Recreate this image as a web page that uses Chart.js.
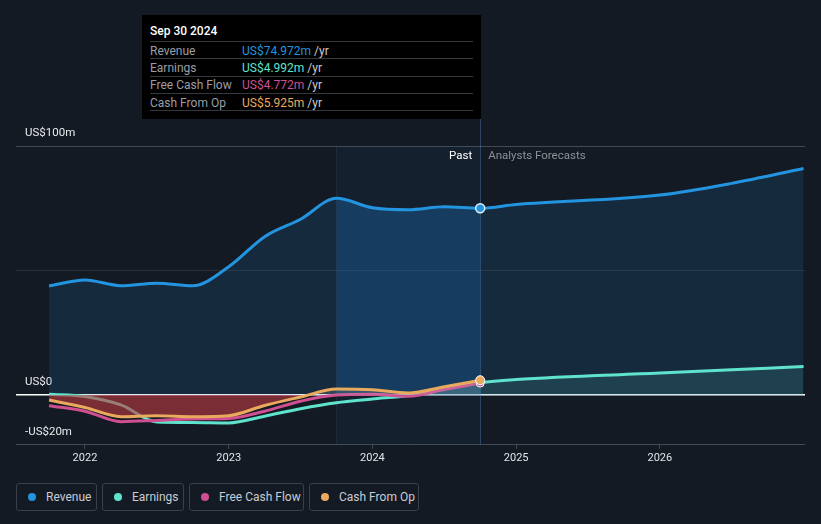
<!DOCTYPE html>
<html>
<head>
<meta charset="utf-8">
<script src="https://cdn.jsdelivr.net/npm/chart.js@4"></script>
<style>
  html, body { margin: 0; padding: 0; background: #141a24; }
  body { width: 821px; height: 524px; position: relative; overflow: hidden; font-family: Roboto, sans-serif; }
  #chart { position: absolute; left: 0; top: 0; }
  #tip { position: absolute; left: 142px; top: 15px; width: 339px; height: 104px; background: #000; font-size: 12px; }
  #tip .title { position: absolute; left: 8px; top: 9px; color: #fff; font-weight: 500; font-size: 12px; }
  #tip .row { position: absolute; left: 8px; width: 323px; height: 17px; border-top: 1px solid #34373d; }
  #tip .row .lab { position: absolute; left: 0; top: 1.5px; color: #9a9ea6; }
  #tip .row .val { position: absolute; left: 92px; top: 1.5px; }
  #tip .row .val span { color: #c9ccd2; }
  #tip .end { position: absolute; left: 8px; top: 95px; width: 323px; border-top: 1px solid #34373d; }
  #legend { position: absolute; left: 16px; top: 483px; display: flex; gap: 5px; }
  #legend .item { box-sizing: border-box; height: 28px; border: 1px solid #3a404b; border-radius: 3px;
    display: flex; align-items: center; padding-left: 11px; color: #c8ccd3; font-size: 12px; }
  #legend .dot { width: 8px; height: 8px; border-radius: 50%; margin-right: 10px; }
</style>
</head>
<body>
<canvas id="chart" width="821" height="470"></canvas>

<div id="tip">
  <div class="title">Sep 30 2024</div>
  <div class="row" style="top:26px"><div class="lab">Revenue</div><div class="val" style="color:#2394df">US$74.972m <span>/yr</span></div></div>
  <div class="row" style="top:43px"><div class="lab">Earnings</div><div class="val" style="color:#5fe3cc">US$4.992m <span>/yr</span></div></div>
  <div class="row" style="top:60.5px"><div class="lab">Free Cash Flow</div><div class="val" style="color:#cf4f90">US$4.772m <span>/yr</span></div></div>
  <div class="row" style="top:78px"><div class="lab">Cash From Op</div><div class="val" style="color:#eaaa5e">US$5.925m <span>/yr</span></div></div>
  <div class="end"></div>
</div>

<div id="legend">
  <div class="item" style="width:81px"><div class="dot" style="background:#2394df"></div>Revenue</div>
  <div class="item" style="width:82px"><div class="dot" style="background:#5fe3cc"></div>Earnings</div>
  <div class="item" style="width:115px"><div class="dot" style="background:#cf4f90"></div>Free Cash Flow</div>
  <div class="item" style="width:110px"><div class="dot" style="background:#eaaa5e"></div>Cash From Op</div>
</div>

<script>
// dates as decimal years (quarter ends), then forecast points
const dates = [2021.75, 2022.0, 2022.25, 2022.5, 2022.75, 2023.0, 2023.25, 2023.5, 2023.75,
               2024.0, 2024.25, 2024.5, 2024.75, 2025.0, 2026.0, 2026.5, 2027.0];
const revenue  = [43.8, 46.2, 43.9, 44.9, 43.9, 51.5, 63.6, 70.6, 79.0, 75.2, 74.4, 75.6, 74.97,
                  76.5, 80.3, 85.0, 91.0];
const earnings = [0.3, -0.6, -4.0, -10.8, -11.0, -11.2, -8.5, -5.5, -3.1, -1.6, -0.2, 2.5, 4.99,
                  6.2, 8.8, 10.1, 11.4];
const freeCashFlow = [-4.3, -6.5, -10.7, -10.2, -9.6, -9.4, -6.5, -2.5, 0.0, 0.3, -0.5, 2.2, 4.77];
const cashFromOp   = [-2.0, -5.0, -8.7, -8.3, -8.7, -8.3, -4.2, -0.8, 2.4, 2.1, 0.8, 3.3, 5.93];
const yearTicks = [2022, 2023, 2024, 2025, 2026];
const valueTicks = [-20, 0, 50, 100];
const bandStart = 2023.75, bandEnd = 2024.75;
const lastPast = 12;

const pts = arr => arr.map((v, i) => ({ x: dates[i], y: v }));
const revenueBand = pts(revenue).filter(p => p.x >= bandStart && p.x <= bandEnd);

Chart.defaults.font.family = 'Roboto, sans-serif';

const bandPlugin = {
    id: 'band',
    beforeDatasetsDraw(chart) {
        const { ctx, chartArea, scales } = chart;
        const x0 = scales.x.getPixelForValue(bandStart);
        const x1 = scales.x.getPixelForValue(bandEnd);
        ctx.save();
        ctx.fillStyle = 'rgba(30,120,190,0.07)';
        ctx.fillRect(x0, chartArea.top, x1 - x0, chartArea.bottom - chartArea.top);
        ctx.fillStyle = 'rgba(120,170,220,0.10)';
        ctx.fillRect(Math.round(x0), chartArea.top, 1, chartArea.bottom - chartArea.top);
        ctx.fillStyle = 'rgba(90,150,210,0.35)';
        ctx.fillRect(Math.round(x1), 15, 1, chartArea.bottom - 15);
        ctx.restore();
    },
    afterDraw(chart) {
        const { ctx, chartArea, scales } = chart;
        const x1 = scales.x.getPixelForValue(bandEnd);
        ctx.save();
        ctx.font = '11.5px Roboto, sans-serif';
        ctx.textBaseline = 'middle';
        ctx.textAlign = 'right';
        ctx.fillStyle = '#ffffff';
        ctx.fillText('Past', x1 - 8, chartArea.top + 10);
        ctx.textAlign = 'left';
        ctx.fillStyle = '#8c9098';
        ctx.fillText('Analysts Forecasts', x1 + 8, chartArea.top + 10);
        ctx.restore();
    }
};

const dotAtLast = r => ctx => ctx.dataIndex === lastPast ? r : 0;

new Chart(document.getElementById('chart'), {
    type: 'line',
    data: {
        datasets: [
            {
                label: 'Cash From Op',
                data: pts(cashFromOp),
                borderColor: '#eaaa5e',
                borderWidth: 3,
                cubicInterpolationMode: 'monotone',
                fill: { target: 'origin', above: 'rgba(190,195,205,0.18)', below: 'rgba(190,58,63,0.6)' },
                pointRadius: dotAtLast(4.5),
                pointBackgroundColor: '#eaaa5e',
                pointBorderColor: '#ffffff',
                pointBorderWidth: 1,
                order: 0
            },
            {
                label: 'Free Cash Flow',
                data: pts(freeCashFlow),
                borderColor: '#cf4f90',
                borderWidth: 3,
                cubicInterpolationMode: 'monotone',
                fill: false,
                pointRadius: dotAtLast(4),
                pointBackgroundColor: '#cf4f90',
                pointBorderColor: '#ffffff',
                pointBorderWidth: 1,
                order: 1
            },
            {
                label: 'Earnings',
                data: pts(earnings),
                borderColor: '#5fe3cc',
                borderWidth: 3,
                cubicInterpolationMode: 'monotone',
                fill: { target: 'origin', above: 'rgba(95,227,204,0.12)', below: 'rgba(0,0,0,0)' },
                pointRadius: 0,
                order: 2
            },
            {
                label: 'Revenue band',
                data: revenueBand,
                borderWidth: 0,
                borderColor: 'rgba(0,0,0,0)',
                cubicInterpolationMode: 'monotone',
                fill: { target: 'origin', above: 'rgba(20,110,180,0.22)' },
                pointRadius: 0,
                order: 4
            },
            {
                label: 'Revenue',
                data: pts(revenue),
                borderColor: '#2394df',
                borderWidth: 3,
                cubicInterpolationMode: 'monotone',
                fill: { target: 'origin', above: 'rgba(40,130,200,0.16)' },
                pointRadius: dotAtLast(4.5),
                pointBackgroundColor: '#2394df',
                pointBorderColor: '#e6eef6',
                pointBorderWidth: 1.5,
                order: 3
            }
        ]
    },
    options: {
        responsive: false,
        animation: false,
        layout: { padding: { left: 16, right: 16, top: 146, bottom: 2 } },
        plugins: { legend: { display: false }, tooltip: { enabled: false } },
        scales: {
            x: {
                type: 'linear',
                min: 2021.52,
                max: 2027.01,
                afterBuildTicks: axis => { axis.ticks = yearTicks.map(v => ({ value: v })); },
                ticks: { color: '#e2e4e8', font: { size: 11 }, padding: 3, maxRotation: 0,
                         callback: v => String(v) },
                grid: { drawOnChartArea: false, drawTicks: true, tickLength: 4, color: '#454b55' },
                border: { display: false }
            },
            y: {
                min: -20,
                max: 100,
                afterBuildTicks: axis => { axis.ticks = valueTicks.map(v => ({ value: v })); },
                afterFit: axis => { axis.width = 0; },
                ticks: {
                    mirror: true,
                    padding: 9,
                    labelOffset: -13,
                    color: '#e8eaee',
                    font: { size: 11.5 },
                    callback: v => v === 100 ? 'US$100m' : v === 0 ? 'US$0' : v === -20 ? '-US$20m' : ''
                },
                grid: {
                    drawTicks: false,
                    color: ctx => ctx.tick.value === 0 ? '#ffffff' :
                                  ctx.tick.value === 50 ? 'rgba(255,255,255,0.09)' : '#444a54',
                    lineWidth: ctx => ctx.tick.value === 0 ? 1.5 : 1
                },
                border: { display: false }
            }
        }
    },
    plugins: [bandPlugin]
});
</script>
</body>
</html>
